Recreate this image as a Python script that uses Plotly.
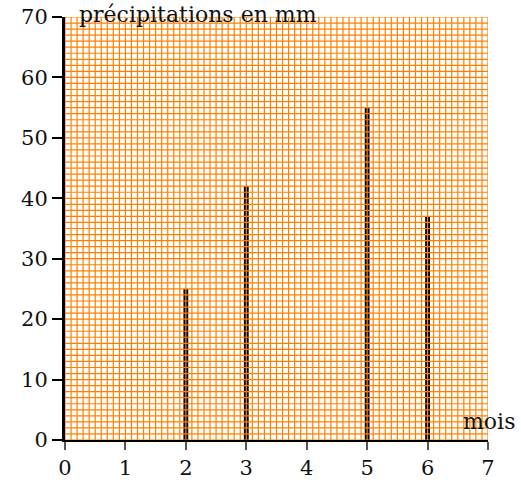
import numpy as np
import plotly.graph_objects as go

months = [2, 3, 5, 6]
rain_mm = [25, 42, 55, 37]
x_ticks = [0, 1, 2, 3, 4, 5, 6, 7]
y_ticks = [0, 10, 20, 30, 40, 50, 60, 70]
y_title = "précipitations en mm"
x_title = "mois"

XMAX, YMAX = 7, 70
grid_color = "rgb(255,128,0)"

fig = go.Figure()
fig.add_trace(go.Bar(x=months, y=rain_mm, width=0.08,
                     marker=dict(color="black", line=dict(width=0)),
                     hoverinfo="x+y"))

gx, gy = [], []
for xv in np.round(np.arange(0, XMAX + 1e-9, 0.1), 2):
    gx += [xv, xv, None]
    gy += [0, YMAX, None]
for yv in np.arange(0, YMAX + 1):
    gx += [0, XMAX, None]
    gy += [yv, yv, None]
fig.add_trace(go.Scatter(x=gx, y=gy, mode="lines",
                         line=dict(color=grid_color, width=1.2),
                         hoverinfo="skip", cliponaxis=False))

font = dict(family="DejaVu Serif", size=21, color="#111")
afont = dict(family="DejaVu Serif", size=22, color="#111")
fig.update_layout(
    width=521, height=486,
    margin=dict(l=65, r=33, t=17, b=46, autoexpand=False),
    paper_bgcolor="white", plot_bgcolor="white",
    showlegend=False, font=font,
    xaxis=dict(range=[0, XMAX], tickvals=x_ticks, showgrid=False, zeroline=False,
               showline=True, linecolor="black", linewidth=2, layer="above traces",
               ticks="outside", ticklen=8, tickcolor="#555", tickwidth=1.5,
               automargin=False),
    yaxis=dict(range=[0, YMAX], tickvals=y_ticks, showgrid=False, zeroline=False,
               showline=True, linecolor="black", linewidth=3, layer="above traces",
               ticks="outside", ticklen=10, tickcolor="black", tickwidth=1.5,
               automargin=False),
    annotations=[
        dict(text=y_title, x=0.2, y=YMAX, xref="x", yref="y", xanchor="left",
             yanchor="middle", yshift=3, showarrow=False, font=afont),
        dict(text=x_title, x=6.55, y=3, xref="x", yref="y", xanchor="left",
             yanchor="middle", showarrow=False, font=afont),
    ],
)
fig.write_html("out.html", config={"displayModeBar": False},
               post_script="document.body.style.margin='0px';")
